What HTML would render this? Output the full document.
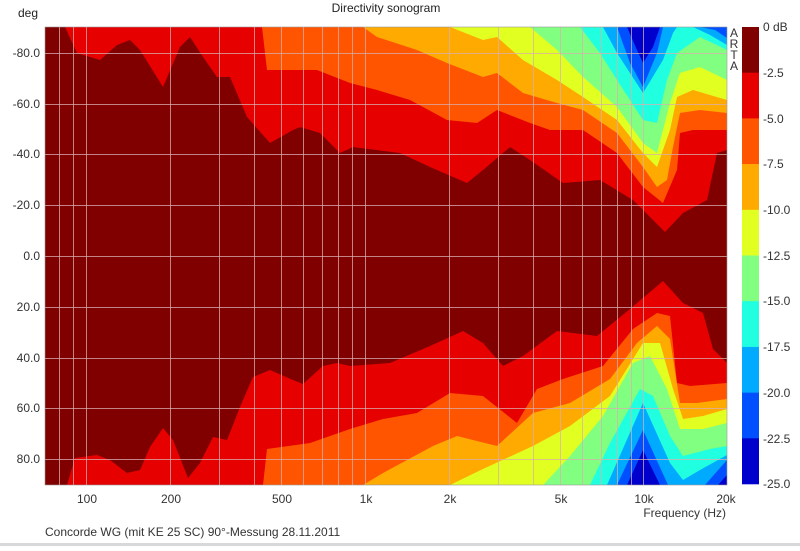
<!DOCTYPE html>
<html><head><meta charset="utf-8"><style>
html,body{margin:0;padding:0;background:#fff;}
body{width:800px;height:546px;overflow:hidden;font-family:"Liberation Sans",sans-serif;}
</style></head><body>
<svg width="800" height="546" xmlns="http://www.w3.org/2000/svg" font-family="Liberation Sans, sans-serif" font-size="12" fill="#222">
<defs><clipPath id="c"><rect x="45" y="27" width="682" height="458"/></clipPath></defs>
<g clip-path="url(#c)">
<rect x="45" y="27" width="682" height="458" fill="#800000"/>
<!-- top half -->
<path fill="#e60000" d="M65,27 L77,53 L100,60 L117,45 L130,40 L140,50 L163,87 L180,47 L190,37 L203,57 L217,77 L230,77 L247,117 L270,143 L293,130 L300,127 L320,133 L340,153 L353,147 L400,153 L430,167 L467,183 L483,170 L510,147 L530,160 L563,183 L600,180 L633,200 L665,232 L683,213 L707,200 L717,153 L727,150 L727,27 Z"/>
<path fill="#ff5500" d="M262,27 L267,70 L317,70 L350,83 L377,90 L410,100 L447,120 L477,123 L497,110 L530,123 L550,130 L583,130 L617,153 L643,187 L663,203 L677,170 L680,133 L693,130 L727,130 L727,27 Z"/>
<path fill="#ffaa00" d="M363,27 L377,37 L417,50 L447,63 L483,77 L497,73 L523,93 L557,103 L583,110 L617,133 L643,167 L657,187 L667,180 L673,147 L680,113 L700,110 L727,113 L727,27 Z"/>
<path fill="#e2ff22" d="M450,27 L483,40 L497,37 L523,60 L557,80 L583,97 L617,120 L643,153 L657,167 L670,130 L677,97 L693,90 L727,100 L727,27 Z"/>
<path fill="#80ff80" d="M530,27 L557,50 L583,77 L617,107 L643,143 L657,153 L670,103 L680,73 L700,67 L727,80 L727,27 Z"/>
<path fill="#20ffe0" d="M580,27 L600,53 L617,80 L643,120 L657,123 L667,80 L677,53 L700,37 L727,50 L727,27 Z"/>
<path fill="#00aaff" d="M603,27 L617,53 L643,93 L663,60 L673,33 L677,27 Z M693,27 L710,35 L727,45 L727,27 Z"/>
<path fill="#0050ff" d="M617,27 L630,63 L643,87 L657,53 L663,27 Z M700,27 L715,30 L727,38 L727,27 Z"/>
<path fill="#0000cc" d="M627,27 L637,50 L643,63 L653,47 L660,27 Z"/>
<!-- bottom half -->
<path fill="#e60000" d="M67,485 L75,458 L97,455 L110,460 L127,473 L140,470 L150,447 L163,428 L173,440 L188,478 L200,463 L213,437 L227,440 L240,407 L253,377 L270,370 L293,380 L303,384 L323,366 L337,363 L350,366 L390,363 L430,346 L463,331 L483,343 L503,366 L523,356 L557,331 L597,336 L630,309 L663,281 L683,303 L703,313 L713,349 L727,363 L727,485 Z"/>
<path fill="#ff5500" d="M263,485 L267,449 L310,443 L350,429 L383,419 L417,413 L450,393 L483,396 L517,423 L537,389 L563,379 L603,366 L633,329 L657,313 L670,316 L677,383 L690,386 L727,383 L727,485 Z"/>
<path fill="#ffaa00" d="M363,485 L383,473 L433,446 L457,436 L497,446 L533,413 L570,403 L610,379 L637,343 L657,326 L670,339 L680,403 L697,403 L727,399 L727,485 Z"/>
<path fill="#e2ff22" d="M450,485 L483,469 L533,446 L570,426 L610,396 L643,343 L660,343 L673,389 L683,419 L703,416 L727,409 L727,485 Z"/>
<path fill="#80ff80" d="M543,485 L570,456 L603,416 L633,363 L650,356 L667,389 L680,429 L703,429 L727,423 L727,485 Z"/>
<path fill="#20ffe0" d="M590,485 L610,443 L640,389 L653,396 L670,436 L683,456 L710,449 L727,446 L727,485 Z"/>
<path fill="#00aaff" d="M607,485 L643,403 L670,463 L683,480 L700,470 L727,455 L727,485 Z"/>
<path fill="#0050ff" d="M617,485 L643,430 L668,485 Z M705,485 L727,460 L727,485 Z"/>
<path fill="#0000cc" d="M627,485 L643,450 L660,485 Z M718,485 L727,475 L727,485 Z"/>
<!-- grid -->
<g stroke="#d8b0b0" stroke-opacity="0.75" stroke-width="1">
<path d="M59.5,27V485M73.5,27V485M86.5,27V485M170.5,27V485M219.5,27V485M254.5,27V485M281.5,27V485M303.5,27V485M322.5,27V485M338.5,27V485M352.5,27V485M365.5,27V485M449.5,27V485M498.5,27V485M533.5,27V485M560.5,27V485M582.5,27V485M601.5,27V485M617.5,27V485M631.5,27V485M643.5,27V485"/>
<path d="M45,53.5H727M45,104.5H727M45,154.5H727M45,205.5H727M45,256.5H727M45,307.5H727M45,358.5H727M45,408.5H727M45,459.5H727"/>
</g>
</g>
<rect x="45" y="27" width="682" height="458" fill="none" stroke="#999" stroke-width="0.6"/>
<!-- colorbar -->
<g>
<rect x="742" y="27" width="17" height="46" fill="#800000"/>
<rect x="742" y="72.7" width="17" height="46" fill="#e60000"/>
<rect x="742" y="118.4" width="17" height="46" fill="#ff5500"/>
<rect x="742" y="164.1" width="17" height="46" fill="#ffaa00"/>
<rect x="742" y="209.8" width="17" height="46" fill="#e2ff22"/>
<rect x="742" y="255.5" width="17" height="46" fill="#80ff80"/>
<rect x="742" y="301.2" width="17" height="46" fill="#20ffe0"/>
<rect x="742" y="346.9" width="17" height="46" fill="#00aaff"/>
<rect x="742" y="392.6" width="17" height="46" fill="#0050ff"/>
<rect x="742" y="438.3" width="17" height="46" fill="#0000cc"/>
</g>
<g font-size="12" fill="#333">
<text x="763" y="31">0 dB</text>
<text x="763" y="77">-2.5</text>
<text x="763" y="123">-5.0</text>
<text x="763" y="168">-7.5</text>
<text x="763" y="214">-10.0</text>
<text x="763" y="260">-12.5</text>
<text x="763" y="305">-15.0</text>
<text x="763" y="351">-17.5</text>
<text x="763" y="397">-20.0</text>
<text x="763" y="443">-22.5</text>
<text x="763" y="488">-25.0</text>
</g>
<g font-size="12" fill="#333" text-anchor="middle">
<text x="734" y="37">A</text><text x="734" y="48">R</text><text x="734" y="59">T</text><text x="734" y="70">A</text>
</g>
<text x="386" y="12" text-anchor="middle" font-size="12" fill="#222">Directivity sonogram</text>
<text x="18" y="17" font-size="12" fill="#222">deg</text>
<g font-size="12" fill="#333" text-anchor="end">
<text x="40" y="57">-80.0</text>
<text x="40" y="108">-60.0</text>
<text x="40" y="158">-40.0</text>
<text x="40" y="209">-20.0</text>
<text x="40" y="260">0.0</text>
<text x="40" y="311">20.0</text>
<text x="40" y="362">40.0</text>
<text x="40" y="412">60.0</text>
<text x="40" y="463">80.0</text>
</g>
<g font-size="12" fill="#333" text-anchor="middle">
<text x="87" y="503">100</text>
<text x="171" y="503">200</text>
<text x="282" y="503">500</text>
<text x="366" y="503">1k</text>
<text x="450" y="503">2k</text>
<text x="561" y="503">5k</text>
<text x="644" y="503">10k</text>
<text x="726" y="503">20k</text>
</g>
<text x="726" y="517" text-anchor="end" font-size="12" fill="#333">Frequency (Hz)</text>
<text x="45" y="536" font-size="12" fill="#333">Concorde WG (mit KE 25 SC) 90°-Messung 28.11.2011</text>
<rect x="0" y="543" width="800" height="3" fill="#d8d8d8"/>
</svg>
</body></html>
